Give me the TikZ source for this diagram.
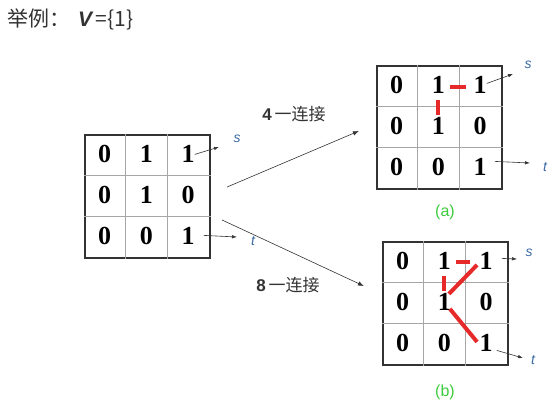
\documentclass[tikz,border=0pt]{standalone}
\usepackage{fontspec}
\setmainfont{Liberation Serif}
\setsansfont{Liberation Sans}
\newfontfamily\cjk{Noto Sans CJK SC}
\usepackage{xcolor}
\usepackage{tikz}
\usetikzlibrary{arrows.meta,calc,positioning}
\definecolor{stblue}{HTML}{3B6AA3}
\definecolor{labgreen}{HTML}{3CCB3C}
\definecolor{markred}{HTML}{E62A2A}
\definecolor{textgray}{HTML}{333333}

\begin{document}
\begin{tikzpicture}[x=1pt,y=-1pt,
  grid/.style={draw=textgray,line width=2.2pt,minimum width=125pt,
               minimum height=123pt,inner sep=0pt},
  cellline/.style={gray!70,line width=0.8pt},
  digit/.style={inner sep=0pt,font=\fontsize{26}{26}\selectfont\bfseries},
  bigarr/.style={-{Latex[length=6pt,width=4.5pt]},line width=0.6pt,textgray},
  smallarr/.style={-{Latex[length=5pt,width=3.5pt]},line width=0.6pt,textgray},
  stlab/.style={font=\sffamily\itshape\fontsize{14}{14}\selectfont,text=stblue},
  conn/.style={font=\cjk\fontsize{17}{17}\selectfont,text=textgray},
  sub/.style={font=\sffamily\fontsize{16}{16}\selectfont,text=labgreen},
  redlink/.style={markred,line width=4pt}]
  \useasboundingbox (0,0) rectangle (556,405);
  \node[anchor=west,text=textgray,inner sep=0pt] (title) at (7,19)
    {\cjk\fontsize{21}{21}\selectfont 举例：\hspace{8pt}{\sffamily\bfseries\itshape V}\,=\{1\}};
  % the three 3x3 grids
  \foreach \g/\gx/\gy in {L/85/135,A/377/66,B/383/242}{
    \node[grid] (\g) at (\gx+62.5,\gy+61.5) {};
    \foreach \i in {1,2}{
      \draw[cellline] ($(\g.north west)+(\i*41.67,0)$) -- ($(\g.south west)+(\i*41.67,0)$);
      \draw[cellline] ($(\g.north west)+(0,\i*41)$) -- ($(\g.north east)+(0,\i*41)$);
    }
    \foreach \r/\c/\v in {1/1/0,1/2/1,1/3/1,2/1/0,2/2/1,2/3/0,3/1/0,3/2/0,3/3/1}
      \node[digit] (\g\r\c) at ($(\g.north west)+(\c*41.67-20.83,\r*41-20.5)$) {\v};
  }
  % s and t
  \coordinate (Lsend) at (219,147);
  \coordinate (Ltend) at (237,237);
  \node[stlab] (Ls) at (237,139) {s};
  \node[stlab] (Lt) at (253,241) {t};
  \draw[smallarr] (L13.east) -- (Lsend);
  \draw[smallarr] ([xshift=9pt,yshift=1pt]L33.east) -- (Ltend);
  \coordinate (Asend) at (513,74);
  \coordinate (Atend) at (530,163);
  \node[stlab] (As) at (528,65) {s};
  \node[stlab] (At) at (545,167) {t};
  \draw[smallarr] ([yshift=2pt]A13.east) -- (Asend);
  \draw[smallarr] ([xshift=8pt,yshift=6pt]A33.east) -- (Atend);
  \coordinate (Bsend) at (517,259);
  \coordinate (Btend) at (523,358);
  \node[stlab] (Bs) at (529,253) {s};
  \node[stlab] (Bt) at (533,360) {t};
  \draw[smallarr] ([xshift=9pt,yshift=3pt]B13.east) -- (Bsend);
  \draw[smallarr] ([xshift=4pt,yshift=-7pt]B33.east) -- (Btend);
  % connectivity
  \draw[bigarr] ([xshift=16pt,yshift=9.5pt]L.east) -- ([xshift=-17pt,yshift=-3.5pt]A.west);
  \draw[bigarr] ([xshift=11pt,yshift=-23.5pt]L.east) -- ([xshift=-18pt,yshift=17.5pt]B.west);
  \node[conn] (four) at (294,114) {{\sffamily\bfseries 4}\,一连接};
  \node[conn] (eight) at (288,285) {{\sffamily\bfseries 8}\,一连接};
  \node[sub] (suba) at (445,212) {(a)};
  \node[sub] (subb) at (445,392) {(b)};
  % red links
  \draw[redlink] ($(A12)+(11.5,1.5)$) -- ($(A13)+(-14,1.5)$);
  \draw[redlink] ($(A12)+(0,14.5)$) -- ($(A22)+(0,-11.5)$);
  \draw[redlink] ($(B12)+(11.5,0.5)$) -- ($(B13)+(-16,0.5)$);
  \draw[redlink] ($(B12)+(-0.5,14.5)$) -- ($(B22)+(-0.5,-11.5)$);
  \draw[redlink] ($(B13)+(-9,3.5)$) -- ($(B22)+(4.5,-8.5)$);
  \draw[redlink] ($(B22)+(5.5,6.5)$) -- ($(B33)+(-9,-1.5)$);
\end{tikzpicture}
\end{document}
